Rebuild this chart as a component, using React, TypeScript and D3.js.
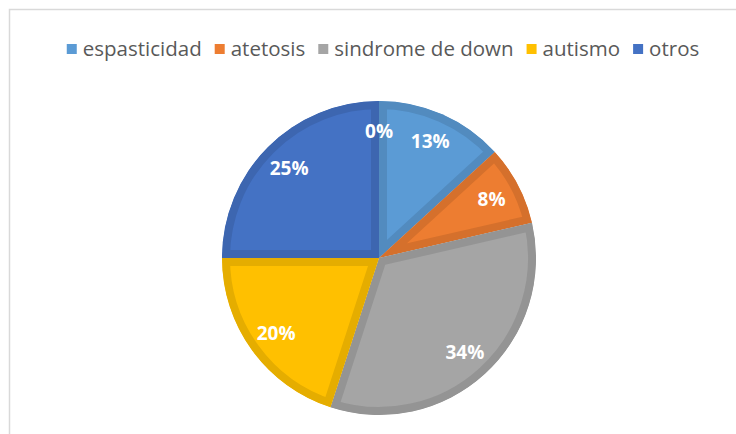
import React, { useEffect, useRef } from 'react';
import * as d3 from 'd3';

const categories = ['espasticidad', 'atetosis', 'sindrome de down', 'autismo', 'otros', ''];
const values = [13.2, 8.2, 33.6, 20, 25, 0];
const colors = ['#5B9BD5', '#ED7D31', '#A5A5A5', '#FFC000', '#4472C4', '#70AD47'];
// the last slice has no name and is left out of the legend
const legendCount = 5;

const W = 736;
const H = 434;

export default function App() {
    const ref = useRef<SVGSVGElement>(null);

    useEffect(() => {
        const svg = d3.select(ref.current);
        svg.selectAll('*').remove();

        // chart frame
        svg.append('rect')
            .attr('x', 9.5)
            .attr('y', 9.5)
            .attr('width', W + 20)
            .attr('height', H + 20)
            .attr('fill', 'white')
            .attr('stroke', '#D9D9D9')
            .attr('stroke-width', 1.5);

        // legend
        const fontLegend = '"Open Sans", sans-serif';
        const legend = svg.append('g');
        let x = 0;
        const swatch = 10;
        const gapText = 6;
        const gapItem = 13;
        for (let i = 0; i < legendCount; i++) {
            const item = legend.append('g').attr('transform', `translate(${x},0)`);
            item.append('rect')
                .attr('x', 0)
                .attr('y', -swatch / 2)
                .attr('width', swatch)
                .attr('height', swatch)
                .attr('fill', colors[i]);
            const t = item.append('text')
                .attr('x', swatch + gapText)
                .attr('y', 0)
                .attr('dy', '0.36em')
                .attr('font-family', fontLegend)
                .attr('font-size', 20.5)
                .attr('fill', '#595959')
                .text(categories[i]);
            const w = (t.node() as SVGTextElement).getComputedTextLength();
            x += swatch + gapText + w + gapItem;
        }
        const legendWidth = x - gapItem;
        legend.attr('transform', `translate(${383 - legendWidth / 2},49)`);

        // pie
        const cx = 379;
        const cy = 258;
        const r = 157;
        const pie = d3.pie<number>().sort(null).value(d => d);
        const arcs = pie(values);
        const arc = d3.arc<d3.PieArcDatum<number>>().innerRadius(0).outerRadius(r);
        const labelArc = d3.arc<d3.PieArcDatum<number>>().innerRadius(r * 0.81).outerRadius(r * 0.81);

        const g = svg.append('g').attr('transform', `translate(${cx},${cy})`);
        const defs = svg.append('defs');

        arcs.forEach((a, i) => {
            if (a.value <= 0) return;
            const d = arc(a) as string;
            defs.append('clipPath').attr('id', 'slice' + i)
                .append('path').attr('d', d);
            g.append('path')
                .attr('d', d)
                .attr('fill', colors[i])
                .attr('stroke', (d3.color(colors[i]) as d3.RGBColor).darker(0.3).formatHex())
                .attr('stroke-width', 16)
                .attr('clip-path', `url(#slice${i})`);
        });

        arcs.forEach((a, i) => {
            const [lx, ly] = labelArc.centroid(a);
            g.append('text')
                .attr('x', lx)
                .attr('y', ly)
                .attr('dy', '0.36em')
                .attr('text-anchor', 'middle')
                .attr('font-family', '"Open Sans", sans-serif')
                .attr('font-weight', 'bold')
                .attr('font-size', 19)
                .attr('fill', 'white')
                .text(Math.round(a.value) + '%');
        });
    }, []);

    return (
        <svg ref={ref} width={W} height={H}
            style={{ position: 'absolute', left: 0, top: 0, background: 'white' }} />
    );
}
